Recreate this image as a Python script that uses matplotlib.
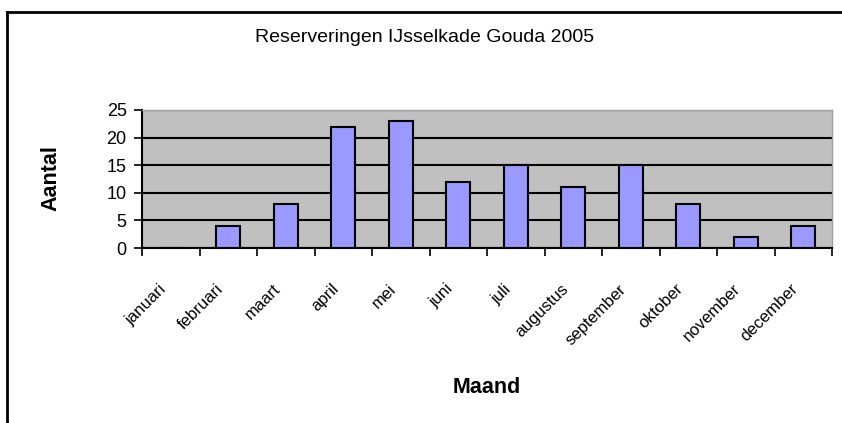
import numpy as np
import matplotlib
matplotlib.use("Agg")
import matplotlib.pyplot as plt
from matplotlib import font_manager
from matplotlib.lines import Line2D
from matplotlib.transforms import ScaledTranslation

plt.rcParams['font.family'] = ['Liberation Sans', 'DejaVu Sans']

maanden = ["januari", "februari", "maart", "april", "mei", "juni", "juli",
           "augustus", "september", "oktober", "november", "december"]
aantal = [0, 4, 8, 22, 23, 12, 15, 11, 15, 8, 2, 4]
y_ticks = [0, 5, 10, 15, 20, 25]

# narrow face for the squeezed month labels, if it is there
names = {f.name for f in font_manager.fontManager.ttflist}
if "Liberation Sans Narrow" in names:
    label_font, label_size = "Liberation Sans Narrow", 13.5
else:
    label_font, label_size = "Liberation Sans", 12

fig = plt.figure(figsize=(8.42, 4.23), dpi=100)
ax = fig.add_axes([142 / 842, 1 - 248 / 423, 690 / 842, 138 / 423])
ax.set_facecolor("#C0C0C0")

x = np.arange(len(maanden))
ax.bar(x, aantal, width=0.42, color="#9999FF", edgecolor="black",
       linewidth=1.5, zorder=3)

ax.set_xlim(-0.5, len(maanden) - 0.5)
ax.set_ylim(0, 25)
ax.set_yticks(y_ticks)
ax.yaxis.grid(True, color="black", linewidth=1.5, zorder=1)
ax.set_axisbelow(True)
ax.tick_params(axis="y", labelsize=13, length=6, width=1.2, pad=5,
               direction="out")

# tick marks between categories, labels at categories
ax.set_xticks(np.arange(-0.5, len(maanden)), labels=[])
ax.set_xticks(x, labels=maanden, minor=True)
ax.tick_params(axis="x", which="major", length=6, width=1.2, direction="out")
ax.tick_params(axis="x", which="minor", length=0, pad=24,
               labelsize=label_size, labelfontfamily=label_font)
offset = ScaledTranslation(-9 / 72, 0, fig.dpi_scale_trans)
for lab in ax.get_xticklabels(minor=True):
    lab.set_rotation(45)
    lab.set_rotation_mode("anchor")
    lab.set_ha("right")
    lab.set_va("top")
    lab.set_transform(lab.get_transform() + offset)

for side in ["left", "bottom"]:
    ax.spines[side].set_color("black")
    ax.spines[side].set_linewidth(1.5)
for side in ["top", "right"]:
    ax.spines[side].set_color("#A0A0A0")
    ax.spines[side].set_linewidth(1.0)

fig.text(425 / 842, 1 - 37 / 423, "Reserveringen IJsselkade Gouda 2005",
         ha="center", va="center", fontsize=14)
fig.text(51 / 842, 1 - 178 / 423, "Aantal", rotation=90, ha="center",
         va="center", fontsize=15.5, fontweight="bold")
fig.text(487 / 842, 1 - 387 / 423, "Maand", ha="center", va="center",
         fontsize=15.5, fontweight="bold")

# chart frame (only top and left edges visible)
fig.add_artist(Line2D([7 / 842, 1.0], [1 - 12.5 / 423, 1 - 12.5 / 423],
                      transform=fig.transFigure, color="black", linewidth=2))
fig.add_artist(Line2D([7 / 842, 7 / 842], [0.0, 1 - 12.5 / 423],
                      transform=fig.transFigure, color="black", linewidth=2))

fig.savefig("out.png", dpi=100, facecolor="white")
